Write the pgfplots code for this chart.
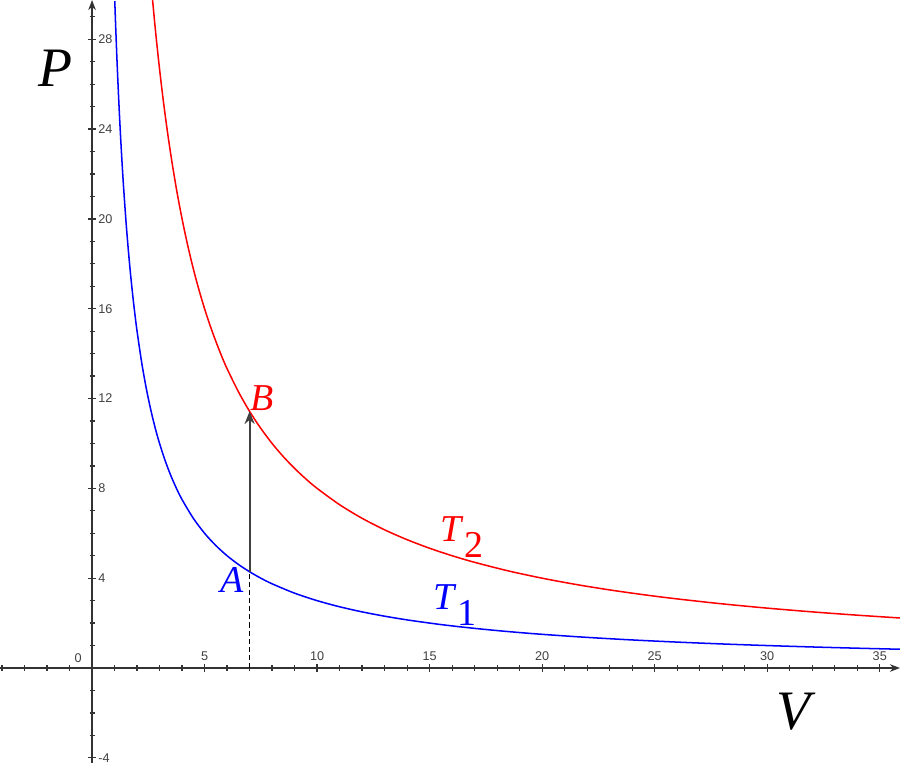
\documentclass[border=0pt]{standalone}
\usepackage{pgfplots}
\pgfplotsset{compat=1.18}
\usepackage{fontspec}
\newfontfamily\lab{Liberation Sans}
\newfontfamily\tms{Liberation Serif}
\usetikzlibrary{arrows.meta}
\begin{document}
\begin{tikzpicture}
\begin{axis}[
  scale only axis, width=12.5cm, height=10.597cm,
  xmin=-4.09, xmax=35.9, ymin=-4.23, ymax=29.75,
  axis lines=middle,
  axis line style={line width=0.55pt, black!80},
  x axis line style={-{Stealth[length=4pt,width=3pt]}},
  y axis line style={-{Stealth[length=4pt,width=3pt]}},
  xtick={0,5,10,15,20,25,30,35},
  xticklabels={{},5,10,15,20,25,30,35},
  minor xtick={-4,-3,...,35},
  ytick={-4,4,8,12,16,20,24,28},
  minor ytick={-4,-3,...,29},
  tick align=center,
  major tick length=3pt, minor tick length=2pt,
  tick style={line width=0.5pt, black!80},
  /pgf/number format/assume math mode=true,
  ticklabel style={font=\lab\fontsize{5}{6}\selectfont, text=black!75},
  xticklabel style={anchor=south, yshift=0.8pt},
  yticklabel style={anchor=west, xshift=0.5pt},
  clip=false,
]
\addplot[blue, line width=0.6pt, smooth] coordinates {
(1.01,29.70) (1.05,28.57) (1.1,27.27) (1.15,26.09) (1.2,25.00) (1.25,24.00)
(1.3,23.08) (1.35,22.22) (1.4,21.43) (1.5,20.00) (1.6,18.75) (1.7,17.65)
(1.8,16.67) (1.9,15.79) (2.0,15.00) (2.2,13.64) (2.4,12.50) (2.6,11.54)
(2.8,10.71) (3,10.00) (3.25,9.231) (3.5,8.571) (3.75,8.000) (4,7.50)
(4.5,6.667) (5,6.00) (5.5,5.455) (6,5.00) (6.5,4.615) (7,4.286) (7.5,4.000)
(8,3.75) (9,3.333) (10,3.00) (11,2.727) (12,2.50) (13,2.308) (14,2.143)
(15.5,1.935) (17,1.765) (18.5,1.622) (20,1.50) (22,1.364) (24,1.25)
(26,1.154) (28,1.071) (30,1.000) (32,0.9375) (34,0.8824) (35.9,0.8357)};
\addplot[red, line width=0.6pt, smooth] coordinates {
(2.69,29.74) (2.8,28.57) (2.9,27.59) (3.0,26.67) (3.1,25.81) (3.2,25.00)
(3.35,23.88) (3.5,22.86) (3.65,21.92) (3.8,21.05) (4.0,20.00) (4.2,19.05)
(4.4,18.18) (4.6,17.39) (4.8,16.67) (5,16.00) (5.25,15.24) (5.5,14.55)
(5.75,13.91) (6,13.33) (6.5,12.31) (7,11.43) (7.5,10.67) (8,10.00) (8.5,9.412)
(9,8.889) (9.5,8.421) (10,8.00) (11,7.273) (12,6.667) (13,6.154) (14,5.714)
(15,5.333) (16,5.000) (17,4.706) (18.5,4.324) (20,4.00) (21.5,3.721)
(23,3.478) (24.5,3.265) (26,3.077) (28,2.857) (30,2.667) (32,2.500)
(34,2.353) (35.9,2.228)};
\addplot[black, dash pattern=on 2pt off 1.2pt, line width=0.6pt] coordinates {(7,0) (7,4.286)};
\addplot[black!75, line width=0.8pt, -{Stealth[open,length=5pt,width=4pt]}] coordinates {(7,4.286) (7,11.43)};
\node[font=\lab\fontsize{5}{6}\selectfont, text=black!75] at (axis cs:-0.62,0.45) {0};
\node[font=\tms\itshape\fontsize{22}{24}\selectfont] at (axis cs:-1.64,26.7) {P};
\node[font=\tms\itshape\fontsize{22}{24}\selectfont] at (axis cs:31.16,-1.96) {V};
\node[font=\tms\itshape\fontsize{15}{17}\selectfont, text=blue] at (axis cs:6.22,3.92) {A};
\node[font=\tms\itshape\fontsize{15}{17}\selectfont, text=red] at (axis cs:7.56,12.03) {B};
\node[font=\tms\fontsize{15}{17}\selectfont, text=red] at (axis cs:16.44,5.84) {\textit{T}\raisebox{-0.9ex}{2}};
\node[font=\tms\fontsize{15}{17}\selectfont, text=blue] at (axis cs:16.13,2.8) {\textit{T}\raisebox{-0.9ex}{1}};
\end{axis}
\pgfresetboundingbox
\path (current axis.south west) rectangle (current axis.north east);
\end{tikzpicture}
\end{document}
